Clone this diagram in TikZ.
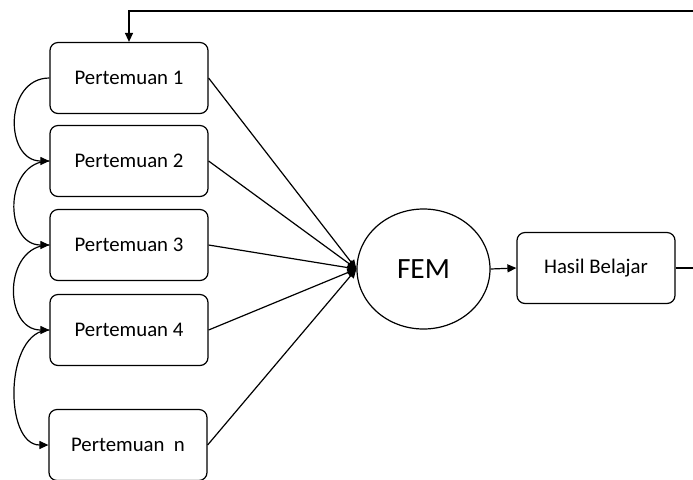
\documentclass[tikz,border=0pt]{standalone}
\usepackage{fontspec}
\setmainfont{Carlito}
\usetikzlibrary{arrows.meta,shapes.geometric}

\tikzset{
    meetbox/.style={draw, rounded corners=4pt, minimum width=79pt, minimum height=35.5pt,
        font=\fontsize{10.4}{12}\selectfont},
    femnode/.style={draw, ellipse, minimum width=66.5pt, minimum height=60pt, inner sep=0pt,
        font=\fontsize{14.7}{17}\selectfont}
}

\begin{document}
\begin{tikzpicture}[x=0.5pt, y=-0.5pt, line width=0.6pt, >={Triangle[length=4.5pt,width=4pt]}]
    \useasboundingbox (0,0) rectangle (693,479);
    \clip (0,0) rectangle (693,479);

    % Meetings
    \node[meetbox] (p1) at (129,78) {Pertemuan 1};
    \node[meetbox] (p2) at (129,161) {Pertemuan 2};
    \node[meetbox] (p3) at (129,245) {Pertemuan 3};
    \node[meetbox] (p4) at (129,330) {Pertemuan 4};
    \node[meetbox] (pn) at (128,445) {Pertemuan~~n};

    % FEM and result
    \node[femnode] (fem) at (423.5,269) {FEM};
    \node[meetbox] (hasil) at (596,268) {Hasil Belajar};

    % Meeting to meeting (left curves)
    \draw[->] (p1.west) to[out=180, in=180, looseness=1.4] (p2.west);
    \draw[->] (p2.west) to[out=180, in=180, looseness=1.4] (p3.west);
    \draw[->] (p3.west) to[out=180, in=180, looseness=1.4] (p4.west);
    \draw[->] (p4.west) to[out=180, in=180, looseness=1.0] (pn.west);

    % Meetings into FEM
    \draw[->] (p1.east) -- (fem.west);
    \draw[->] (p2.east) -- (fem.west);
    \draw[->] (p3.east) -- (fem.west);
    \draw[->] (p4.east) -- (fem.west);
    \draw[->] (pn.east) -- (fem.west);

    % FEM to result
    \draw[->] (fem.east) -- (hasil.west);

    % Feedback back to the first meeting
    \coordinate (loop) at (705,11);
    \draw[->] (hasil.east) -| (loop) -| (p1.north);
\end{tikzpicture}
\end{document}
